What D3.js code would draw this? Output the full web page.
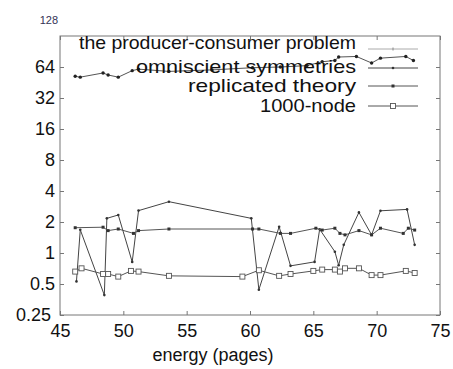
<!DOCTYPE html>
<html>
<head>
<meta charset="utf-8">
<script src="https://cdn.jsdelivr.net/npm/d3@7"></script>
<style>
  body { margin: 0; background: #fff; }
  text { font-family: "Liberation Sans", Arial, sans-serif; }
</style>
</head>
<body>
<div class="chart"></div>
<script>
// series names (legend order)
const seriesNames = ["the producer-consumer problem", "omniscient symmetries", "replicated theory", "1000-node"];

// top series, around 50-80
const producerX = [46.2, 46.6, 48.4, 48.8, 49.6, 50.7, 51.2, 53.6, 57.0, 60.2, 62.4, 64.5, 65.7, 66.7, 67.0, 68.4, 69.6, 70.3, 72.3, 72.9];
const producerY = [52, 51, 56, 53.5, 51, 59, 61, 58, 60, 63, 64, 66, 72, 74, 80, 81, 70, 78, 81, 74];

// zigzag series
const omniX = [46.3, 46.6, 48.5, 48.7, 49.6, 50.7, 51.2, 53.6, 60.1, 60.7, 62.3, 63.2, 65.1, 65.5, 66.7, 67.0, 67.4, 68.6, 69.6, 70.3, 72.4, 73.0];
const omniY = [0.53, 1.68, 0.39, 2.17, 2.34, 0.82, 2.58, 3.15, 2.17, 0.44, 1.8, 0.75, 0.82, 1.7, 1.03, 0.76, 1.2, 2.48, 1.5, 2.57, 2.65, 1.2];

// flat series around 1.7
const replX = [46.2, 48.4, 48.8, 49.6, 50.8, 51.2, 53.6, 60.2, 60.7, 62.4, 63.2, 65.2, 65.7, 66.7, 67.1, 67.5, 68.6, 69.6, 70.3, 72.1, 72.5, 73.0];
const replY = [1.76, 1.78, 1.65, 1.71, 1.55, 1.65, 1.71, 1.71, 1.71, 1.55, 1.55, 1.74, 1.67, 1.74, 1.55, 1.5, 1.65, 1.5, 1.74, 1.55, 1.74, 1.67];

// squares series around 0.65
const nodeX = [46.2, 46.7, 48.4, 48.8, 49.6, 50.6, 51.2, 53.6, 59.4, 60.7, 62.3, 63.2, 65.0, 65.7, 66.7, 67.1, 67.5, 68.6, 69.6, 70.3, 72.3, 73.0];
const nodeY = [0.66, 0.71, 0.625, 0.625, 0.59, 0.67, 0.66, 0.6, 0.59, 0.68, 0.6, 0.625, 0.67, 0.69, 0.69, 0.66, 0.71, 0.71, 0.61, 0.61, 0.67, 0.64];

const xTicks = [45, 50, 55, 60, 65, 70, 75];
const yTicks = [0.25, 0.5, 1, 2, 4, 8, 16, 32, 64];

const W = 453, H = 369;
const margin = {top: 36, left: 60, right: 13, bottom: 54};

const svg = d3.select(".chart").append("svg")
    .attr("width", W)
    .attr("height", H);

const xScale = d3.scaleLinear().domain([45, 75]).range([margin.left, W - margin.right]);
const yScale = d3.scaleLog().base(2).domain([0.25, 128]).range([H - margin.bottom, margin.top]);

const x0 = xScale.range()[0], x1 = xScale.range()[1];
const y0 = yScale.range()[0], y1 = yScale.range()[1];

// frame
svg.append("rect")
    .attr("x", x0).attr("y", y1)
    .attr("width", x1 - x0).attr("height", y0 - y1)
    .attr("fill", "none").attr("stroke", "#777").attr("stroke-width", 1);

// axes with inward ticks
const yAxisL = svg.append("g").attr("transform", `translate(${x0},0)`)
    .call(d3.axisLeft(yScale).tickValues(yTicks).tickSize(-4).tickPadding(5).tickFormat(d => String(d)));
const yAxisR = svg.append("g").attr("transform", `translate(${x1},0)`)
    .call(d3.axisRight(yScale).tickValues(yTicks).tickSize(-4).tickFormat(""));
const xAxisB = svg.append("g").attr("transform", `translate(0,${y0})`)
    .call(d3.axisBottom(xScale).tickValues(xTicks).tickSize(-4).tickPadding(9).tickFormat(d3.format("d")));
const xAxisT = svg.append("g").attr("transform", `translate(0,${y1})`)
    .call(d3.axisTop(xScale).tickValues(xTicks).tickSize(-4).tickFormat(""));

[yAxisL, yAxisR, xAxisB, xAxisT].forEach(g => {
    g.select(".domain").remove();
    g.selectAll(".tick line").attr("stroke", "#777");
});
yAxisL.selectAll(".tick text").attr("font-size", 18).attr("fill", "#111")
    .attr("font-family", "Liberation Sans, Arial, sans-serif")
    .attr("dx", d => d === 0.25 ? -4 : 0);
xAxisB.selectAll(".tick text").attr("font-size", 18).attr("fill", "#111")
    .attr("font-family", "Liberation Sans, Arial, sans-serif");

// odd small 128 label above the frame
svg.append("text")
    .attr("x", x0 - 2).attr("y", yScale(128) - 12)
    .attr("text-anchor", "end")
    .attr("font-size", 11).attr("fill", "#335")
    .text("128");

// x label
svg.append("text")
    .attr("x", 213).attr("y", 361)
    .attr("text-anchor", "middle")
    .attr("font-size", 18).attr("fill", "#111")
    .text("energy (pages)");

const series = [
    {name: seriesNames[0], xs: producerX, ys: producerY, stroke: "#555", marker: "dot"},
    {name: seriesNames[1], xs: omniX, ys: omniY, stroke: "#444", marker: "small"},
    {name: seriesNames[2], xs: replX, ys: replY, stroke: "#555", marker: "fsq"},
    {name: seriesNames[3], xs: nodeX, ys: nodeY, stroke: "#555", marker: "osq"}
];

const line = d3.line().x(d => xScale(d[0])).y(d => yScale(d[1]));

function drawMarker(g, px, py, type) {
    if (type === "dot") {
        g.append("circle").attr("cx", px).attr("cy", py).attr("r", 1.7).attr("fill", "#222");
    } else if (type === "small") {
        g.append("circle").attr("cx", px).attr("cy", py).attr("r", 1.3).attr("fill", "#333");
    } else if (type === "fsq") {
        g.append("rect").attr("x", px - 1.5).attr("y", py - 1.5).attr("width", 3).attr("height", 3).attr("fill", "#333");
    } else {
        g.append("rect").attr("x", px - 2.5).attr("y", py - 2.5).attr("width", 5).attr("height", 5)
            .attr("fill", "#fff").attr("stroke", "#555").attr("stroke-width", 0.9);
    }
}

series.forEach(s => {
    const pts = s.xs.map((x, i) => [x, s.ys[i]]);
    const g = svg.append("g");
    g.append("path").datum(pts)
        .attr("d", line)
        .attr("fill", "none")
        .attr("stroke", s.stroke)
        .attr("stroke-width", 1);
    pts.forEach(p => drawMarker(g, xScale(p[0]), yScale(p[1]), s.marker));
});

// legend
const legendRows = [43, 67, 86, 106];
const legendLineY = [49, 68, 86, 106];
const legendWidths = [277, 220, 168, 96];
const legend = svg.append("g");
series.forEach((s, i) => {
    legend.append("text")
        .attr("x", 356 - legendWidths[i]).attr("y", legendRows[i] + 6)
        .attr("font-size", 19).attr("fill", "#111")
        .attr("textLength", legendWidths[i])
        .attr("lengthAdjust", "spacingAndGlyphs")
        .text(s.name);
    legend.append("line")
        .attr("x1", 368).attr("x2", 418)
        .attr("y1", legendLineY[i]).attr("y2", legendLineY[i])
        .attr("stroke", i === 0 ? "#aaa" : s.stroke).attr("stroke-width", 1);
    if (i === 0) {
        legend.append("line")
            .attr("x1", 393).attr("x2", 393)
            .attr("y1", legendLineY[i] - 1.5).attr("y2", legendLineY[i] + 1.5)
            .attr("stroke", "#888");
    } else {
        drawMarker(legend, 393, legendLineY[i], s.marker);
    }
});
</script>
</body>
</html>
